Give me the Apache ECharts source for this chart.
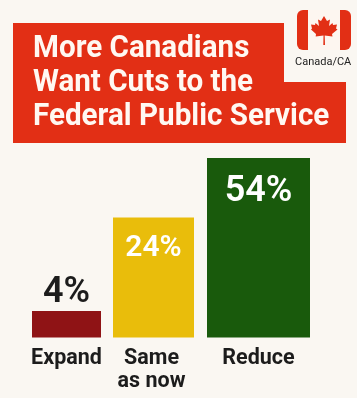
<!DOCTYPE html>
<html><head><meta charset="utf-8">
<style>html,body{margin:0;padding:0;background:#faf7f2}#c{width:357px;height:398px}</style>
<script src="https://cdn.jsdelivr.net/npm/echarts@6/dist/echarts.min.js"></script></head>
<body><div id="c"></div>
<script>
const categories = ['Expand', 'Same\nas now', 'Reduce'];
const percentLabels = [4, 24, 54];
// Bar heights as drawn in the picture (not proportional to the printed percentages)
const drawnHeights = [26.5, 120, 179.5];
const colors = ['#8f1315', '#e9bd0b', '#195a0c'];
const titleLines = ['More Canadians', 'Want Cuts to the', 'Federal Public Service'];
const sourceLabel = 'Canada/CA';

const boxes = [[32, 69], [113, 81], [207, 103]];
const labelSizes = [36, 30, 36];
const labelDist = [0, 16, 16];
const FONT = 'Roboto';
const chart = echarts.init(document.getElementById('c'), null, {renderer: 'canvas'});
const grids = [], xAxes = [], yAxes = [], series = [];
categories.forEach((c, i) => {
  grids.push({left: boxes[i][0], width: boxes[i][1], top: 158, height: 179.5, containLabel: false});
  xAxes.push({type: 'category', gridIndex: i, data: [c], axisLine: {show: false}, axisTick: {show: false},
    axisLabel: {interval: 0, margin: 9, color: '#1c1c1c', fontFamily: FONT, fontWeight: 700, fontSize: 21.5, lineHeight: 23.5, verticalAlign: 'top',
      padding: i === 1 ? [0, 4, 0, 0] : 0}});
  yAxes.push({type: 'value', gridIndex: i, min: 0, max: 179.5, show: false});
  series.push({type: 'bar', xAxisIndex: i, yAxisIndex: i, barWidth: '100%', data: [drawnHeights[i]],
    itemStyle: {color: colors[i]}, animation: false, silent: true,
    label: {show: true, position: i === 0 ? 'top' : 'insideTop', distance: labelDist[i],
      formatter: () => percentLabels[i] + '%', fontFamily: FONT, fontWeight: 600, fontSize: labelSizes[i],
      color: i === 0 ? '#1c1c1c' : '#ffffff'}});
});
const titleGraphics = titleLines.map((t, i) => ({type: 'text', x: 33, y: 65 + i * 34, scaleX: 0.955, silent: true,
  style: {text: t, fill: '#fff8f2', font: '700 31px ' + FONT, textVerticalAlign: 'bottom', verticalAlign: 'alphabetic'}}));
chart.setOption({
  backgroundColor: '#faf7f2', animation: false,
  grid: grids, xAxis: xAxes, yAxis: yAxes, series,
  graphic: [
    {type: 'polygon', silent: true, z: 0, shape: {points: [[13, 23], [284, 23], [284, 82], [346, 82], [346, 143], [13, 143]]}, style: {fill: '#e22f15'}},
    ...titleGraphics,
    {type: 'rect', silent: true, shape: {x: 297, y: 10, width: 54, height: 40, r: 6}, style: {fill: '#e22f15'}},
    {type: 'rect', silent: true, shape: {x: 308, y: 10, width: 32, height: 40}, style: {fill: '#fdf6f0'}},
    {type: 'polygon', silent: true, shape: {points: [[324,16],[327,21],[330,19.5],[329,26],[332.5,23],[333,25],[337,24.5],[336,28.5],[337.5,29.5],[332,34],[332.5,36.5],[324.7,35.5],[325,45],[323.3,45],[323.5,35.5],[315.7,36.5],[316,34],[311,29.5],[312,28.5],[311,24.5],[315,25],[315.5,23],[319,26],[318,19.5],[321,21]]}, style: {fill: '#e22f15'}},
    {type: 'text', left: 295, top: 57, silent: true, style: {text: sourceLabel, fill: '#222', font: '400 11px ' + FONT}}
  ]
});
</script></body></html>
